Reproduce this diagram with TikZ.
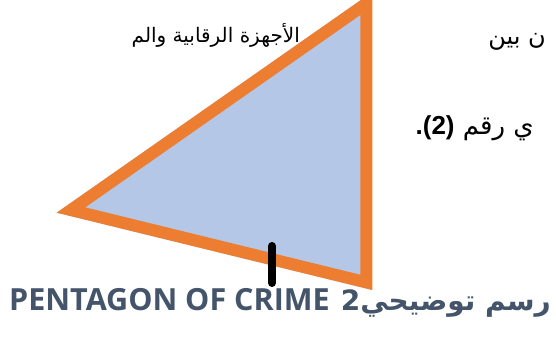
\documentclass[tikz,border=0pt]{standalone}
\usepackage{fontspec}
\setmainfont{Liberation Sans}
\newfontfamily\arabicfont[Script=Arabic]{DejaVu Sans}
\newfontfamily\capfont{Open Sans}
\TeXXeTstate=1
\definecolor{triorange}{HTML}{ED7D31}
\definecolor{triblue}{HTML}{B4C7E7}
\definecolor{capcolor}{HTML}{44546A}
\tikzset{
  bodytext/.style={inner sep=0pt, font=\fontsize{24}{28}\selectfont},
  captext/.style={inner sep=0pt, text=capcolor, font=\fontsize{28}{32}\selectfont\bfseries},
}
\begin{document}
\begin{tikzpicture}[x=1pt,y=-1pt]
\useasboundingbox (0,0) rectangle (556,345);
% text lines behind the figure
\node[bodytext, anchor=base east] (lineA) at (546,45) {\arabicfont\beginR ن بين\endR};
\node[bodytext, font=\fontsize{26}{30}\selectfont, anchor=base east] (lineC) at (534,134) {\arabicfont\beginR ي رقم \beginL{\rmfamily\bfseries (2)}\endL{\rmfamily\bfseries .}\endR};
% triangle
\coordinate (A) at (56.7,212.7);
\coordinate (B) at (372.3,-8);
\coordinate (C) at (372.3,290);
\begin{scope}
  \clip (A) -- (B) -- (C) -- cycle;
  \fill[triblue] (A) -- (B) -- (C) -- cycle;
  \draw[triorange, line width=24pt, line join=miter] (A) -- (B) -- (C) -- cycle;
\end{scope}
\node[bodytext, font=\fontsize{20}{24}\selectfont, anchor=base east] (lineB) at (300,43) {\arabicfont\beginR الأجهزة الرقابية والم\endR};
% tick mark
\coordinate (T1) at (272,246);
\coordinate (T2) at (272,283);
\draw[black, line width=8pt, line cap=round] (T1) -- (T2);
% caption
\node[captext, font=\fontsize{30.5}{34}\selectfont\bfseries, anchor=base west] (capL) at (9,310) {\capfont PENTAGON OF CRIME};
\node[captext, anchor=base east] (capR) at (551,310) {\arabicfont\beginR رسم توضيحي2\endR};
\end{tikzpicture}
\end{document}
